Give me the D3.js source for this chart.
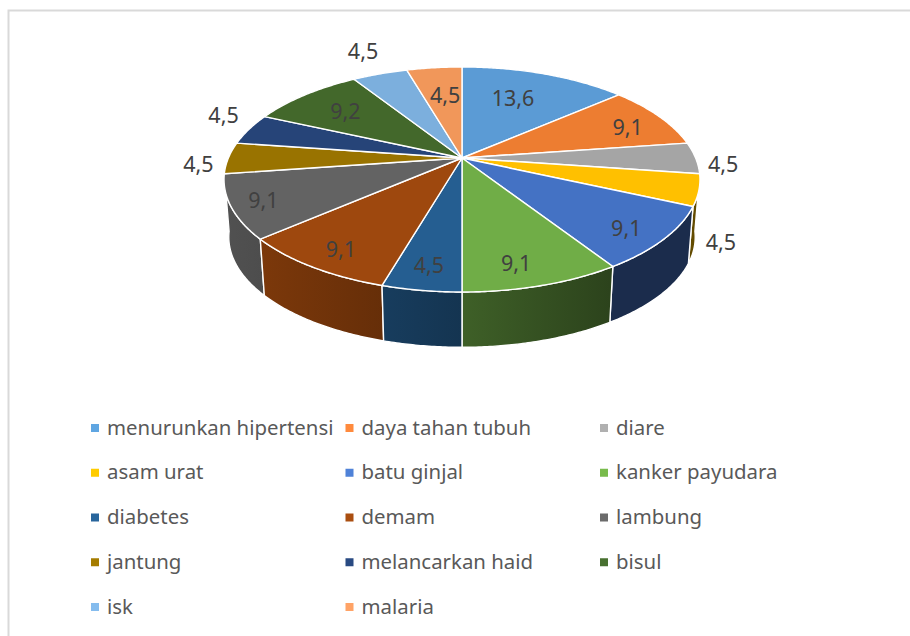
<!DOCTYPE html>
<html><head><meta charset="utf-8">
<script src="https://cdn.jsdelivr.net/npm/d3@7"></script>
<style>html,body{margin:0;padding:0;background:#fff;overflow:hidden}svg{display:block}text{font-family:"Noto Sans",sans-serif}</style>
</head><body><svg id="c" width="910" height="636"></svg>
<script>
const categories = ["menurunkan hipertensi","daya tahan tubuh","diare","asam urat","batu ginjal","kanker payudara","diabetes","demam","lambung","jantung","melancarkan haid","bisul","isk","malaria"];
const values = [13.6,9.1,4.5,4.5,9.1,9.1,4.5,9.1,9.1,4.5,4.5,9.2,4.5,4.5];
const valueLabels = ["13,6","9,1","4,5","4,5","9,1","9,1","4,5","9,1","9,1","4,5","4,5","9,2","4,5","4,5"];
const colors = ["#5b9bd5","#ed7d31","#a5a5a5","#ffc000","#4472c4","#70ad47","#255e91","#9e480e","#636363","#997300","#264478","#43682b","#7cafdd","#f1975a"];
const legendColors = ["#5fa6e2","#ff8a3d","#b0b0b0","#ffcc00","#4f82d8","#78bb4c","#28659c","#aa4e10","#6b6b6b","#a57c00","#294a82","#487030","#85bcee","#ffa366"];
const labelRadius = [.665,.805,1.107,1.18,.852,.842,.844,.851,.87,1.117,1.185,.72,1.316,.658];
const labelShiftDeg = [-3,3,3,19,2,3,0,-1,0,-3,5,0,1,1];

const svg = d3.select("#c");
const cx=462, cyTop=158, cyBottom=216, R=233.6, A=108.4, K=0.191, bottomScale=0.98;

// perspective map from the unit pie plane to the screen
function project(a, r, cy, s){
  const u=r*Math.sin(a), v=-r*Math.cos(a), d=1-K*v;
  return [cx+s*R*u/d, cy+s*A*v/d];
}
const top_=(a,r=1)=>project(a,r,cyTop,1);
const bot=(a)=>project(a,1,cyBottom,bottomScale);
const arcs=d3.pie().sort(null).value(d=>d)(values);
const samples=(a0,a1)=>{const n=Math.max(2,Math.ceil((a1-a0)/0.01));return d3.range(n+1).map(i=>a0+(a1-a0)*i/n);};
const line=d3.line();

const defs=svg.append("defs");
const shade=d3.scaleLinear().domain([225,610]).range([.82,.39]);
const mul=(c,f)=>{const o=d3.rgb(c);return d3.rgb(o.r*f,o.g*f,o.b*f).formatHex();};
colors.forEach((c,i)=>{
  const g=defs.append("linearGradient").attr("id","w"+i).attr("gradientUnits","userSpaceOnUse")
    .attr("x1",225).attr("x2",610).attr("y1",0).attr("y2",0);
  g.append("stop").attr("offset",0).attr("stop-color",mul(c,shade(225)));
  g.append("stop").attr("offset",1).attr("stop-color",mul(c,shade(610)));
});

// chart frame
svg.append("path").attr("d",line([[8.5,640],[8.5,10.5],[915,10.5]])).attr("fill","none").attr("stroke","#d9d9d9").attr("stroke-width",2);

// walls, far to near
const order=arcs.map((d,i)=>({d,i,z:-Math.cos((d.startAngle+d.endAngle)/2)})).sort((a,b)=>a.z-b.z);
svg.append("g").selectAll("path").data(order).join("path")
  .attr("d",o=>{
    const t=samples(o.d.startAngle,o.d.endAngle);
    return line(t.map(a=>top_(a)).concat(t.slice().reverse().map(bot)))+"Z";
  })
  .attr("fill",o=>`url(#w${o.i})`).attr("stroke","#fff").attr("stroke-width",1.4).attr("stroke-linejoin","round");

// top faces
svg.append("g").selectAll("path").data(arcs).join("path")
  .attr("d",(d)=>line([[cx,cyTop]].concat(samples(d.startAngle,d.endAngle).map(a=>top_(a))))+"Z")
  .attr("fill",(d,i)=>colors[i]).attr("stroke","#fff").attr("stroke-width",1.4).attr("stroke-linejoin","round");

// data labels
svg.append("g").selectAll("text").data(arcs).join("text")
  .attr("transform",(d,i)=>{
    const a=(d.startAngle+d.endAngle)/2+labelShiftDeg[i]*Math.PI/180;
    return `translate(${top_(a,labelRadius[i])})`;
  })
  .attr("text-anchor","middle").attr("dy","0.35em").attr("font-size",21.5).attr("fill","#404040")
  .text((d,i)=>valueLabels[i]);

// legend
const legendX=d3.scalePoint().domain([0,1,2]).range([91,600]);
const legendY=d3.scalePoint().domain([0,1,2,3,4]).range([428,607]);
const items=svg.append("g").selectAll("g").data(categories).join("g")
  .attr("transform",(d,i)=>`translate(${legendX(i%3)},${legendY(Math.floor(i/3))})`);
items.append("rect").attr("x",0).attr("y",-4).attr("width",8).attr("height",8).attr("fill",(d,i)=>legendColors[i]);
items.append("text").attr("x",16).attr("dy","0.33em").attr("font-size",20.4).attr("fill","#595959").text(d=>d);
</script></body></html>
